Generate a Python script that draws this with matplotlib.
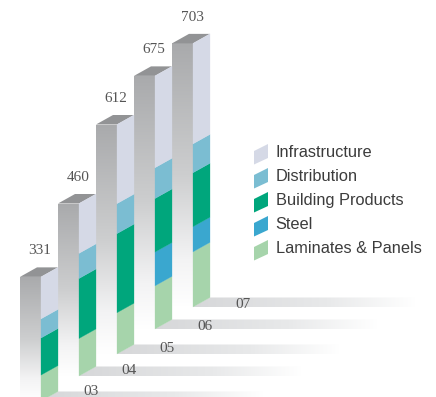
import numpy as np
import matplotlib
matplotlib.use("Agg")
import matplotlib.pyplot as plt
from matplotlib.patches import Polygon
from matplotlib.colors import LinearSegmentedColormap

# Revenue by year and segment
years = ["03", "04", "05", "06", "07"]
totals = [331, 460, 612, 675, 703]
laminates = [69, 100, 110, 115, 147]
steel = [0, 0, 0, 90, 67]
building = [99, 160, 211, 143, 144]
distribution = [51, 67, 80, 82, 77]
infrastructure = [112, 133, 211, 245, 268]

segment_names = ["Infrastructure", "Distribution", "Building Products", "Steel", "Laminates & Panels"]
segment_colors = ["#d5d9e6", "#7bbdd2", "#00a67c", "#3aa7cf", "#a6d4ab"]

# Oblique projection settings, in figure pixels
SCALE = 0.375
X0, X_STEP = 20, 38
BASES = [401, 376, 354, 329, 307]
YEAR_LABEL_Y = [391.5, 371, 348, 326, 304]
FRONT_W, SIDE_W, RISE = 21, 17, 9.5
FLOOR_LEN = 222

fig = plt.figure(figsize=(4.36, 3.97), dpi=100)
ax = fig.add_axes([0, 0, 1, 1])

front_cmap = LinearSegmentedColormap.from_list(
    "front", [(0, "#a9aaac"), (0.5, "#cdcecf"), (0.82, "#f3f3f4"), (1, "#ffffff")])
floor_cmap = LinearSegmentedColormap.from_list(
    "floor", [(0, "#d6d7d9"), (0.6, "#e8e9ea"), (1, "#ffffff")])
vertical = np.linspace(0, 1, 256).reshape(-1, 1)
horizontal = np.linspace(0, 1, 256).reshape(1, -1)


def clipped_gradient(grad, cmap, corners, zorder):
    xs = [c[0] for c in corners]
    ys = [c[1] for c in corners]
    im = ax.imshow(grad, cmap=cmap, vmin=0, vmax=1, aspect="auto", zorder=zorder,
                   extent=(min(xs), max(xs), max(ys), min(ys)), interpolation="bilinear")
    clip = Polygon(corners, closed=True, transform=ax.transData, fill=False, edgecolor="none")
    ax.add_patch(clip)
    im.set_clip_path(clip)


stacks = list(zip(laminates, steel, building, distribution, infrastructure))
stack_colors = segment_colors[::-1]

for i, year in enumerate(years):
    left = X0 + i * X_STEP
    edge = left + FRONT_W
    right = edge + SIDE_W
    base = BASES[i]
    top = base - totals[i] * SCALE

    # Floor strip fading out to the right
    end = edge + FLOOR_LEN
    clipped_gradient(horizontal, floor_cmap,
                     [(edge, base), (right, base - RISE), (end, base - RISE), (end, base)], 1)
    ax.text(edge + 50, YEAR_LABEL_Y[i], year, family="Liberation Serif", fontsize=11,
            color="#555555", ha="center", va="center", zorder=6)

    # Front face
    clipped_gradient(vertical, front_cmap,
                     [(left, top), (edge, top), (edge, base), (left, base)], 3)

    # Top face
    ax.add_patch(Polygon([(left, top), (edge, top), (right, top - RISE), (left + SIDE_W, top - RISE)],
                         closed=True, facecolor="#929395", edgecolor="none", zorder=4))

    # Stacked side face
    level = base
    for value, color in zip(stacks[i], stack_colors):
        if value == 0:
            continue
        upper = level - value * SCALE
        ax.add_patch(Polygon([(edge, level), (right, level - RISE), (right, upper - RISE), (edge, upper)],
                             closed=True, facecolor=color, edgecolor=color, linewidth=0.2, zorder=5))
        level = upper

    ax.text(edge - 1, top - 26, str(totals[i]), family="Liberation Serif", fontsize=11,
            color="#555555", ha="center", va="center", zorder=6)

# Legend drawn as small side faces
LEG_X, LEG_Y, LEG_STEP = 254, 151, 24
for k, (name, color) in enumerate(zip(segment_names, segment_colors)):
    y = LEG_Y + k * LEG_STEP
    ax.add_patch(Polygon([(LEG_X, y), (LEG_X + 14, y - 7), (LEG_X + 14, y + 7), (LEG_X, y + 13.5)],
                         closed=True, facecolor=color, edgecolor="none", zorder=5))
    ax.text(LEG_X + 21.5, y + 1.5, name, family="Liberation Sans", fontsize=11.8,
            color="#3c3c3c", ha="left", va="center", zorder=6)

ax.set_xlim(0, 436)
ax.set_ylim(397, 0)
ax.axis("off")
fig.savefig("out.png", dpi=100, facecolor="white")
